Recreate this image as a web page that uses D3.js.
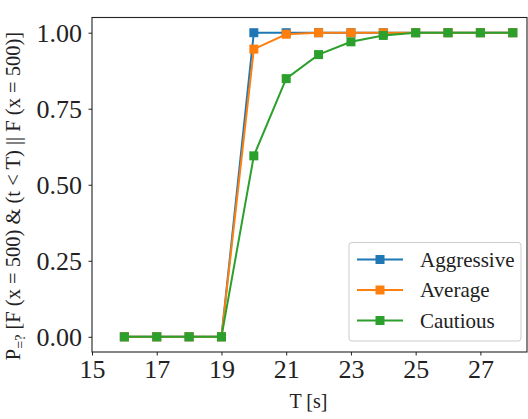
<!DOCTYPE html>
<html>
<head>
<meta charset="utf-8">
<script src="https://cdn.jsdelivr.net/npm/d3@7"></script>
<style>
  body { margin: 0; background: #fff; }
  svg { display: block; }
</style>
</head>
<body>
<div id="chart"></div>
<script>
// data
const times = [16, 17, 18, 19, 20, 21, 22, 23, 24, 25, 26, 27, 28];
const aggressive = [0, 0, 0, 0, 1.0, 1.0, 1.0, 1.0, 1.0, 1.0, 1.0, 1.0, 1.0];
const average = [0, 0, 0, 0, 0.946, 0.995, 1.0, 1.0, 1.0, 1.0, 1.0, 1.0, 1.0];
const cautious = [0, 0, 0, 0, 0.595, 0.849, 0.928, 0.970, 0.991, 1.0, 1.0, 1.0, 1.0];
const seriesNames = ["Aggressive", "Average", "Cautious"];
const seriesColors = ["#1f77b4", "#ff7f0e", "#2ca02c"];
const xTicks = [15, 17, 19, 21, 23, 25, 27];
const yTicks = [0, 0.25, 0.5, 0.75, 1.0];

const W = 528, H = 419;
const margin = {left: 92, right: 527, top: 17.5, bottom: 352};
const serif = '"Liberation Serif", "DejaVu Serif", serif';

const svg = d3.select("#chart").append("svg")
  .attr("width", W).attr("height", H);

const x = d3.scaleLinear().domain([15, 28.44]).range([margin.left, margin.right]);
const y = d3.scaleLinear().domain([-0.05, 1.05]).range([margin.bottom, margin.top]);

// axes
const xAxis = svg.append("g")
  .attr("transform", `translate(0,${margin.bottom})`)
  .call(d3.axisBottom(x).tickValues(xTicks).tickFormat(d3.format("d"))
    .tickSize(3.5).tickPadding(4).tickSizeOuter(0));
const yAxis = svg.append("g")
  .attr("transform", `translate(${margin.left},0)`)
  .call(d3.axisLeft(y).tickValues(yTicks).tickFormat(d3.format(".2f"))
    .tickSize(3.5).tickPadding(6.5).tickSizeOuter(0));

[xAxis, yAxis].forEach(a => {
  a.select(".domain").remove();
  a.selectAll("line").attr("stroke", "#222").attr("stroke-width", 1);
  a.selectAll("text").style("font-family", serif)
    .style("font-size", "26px").attr("fill", "#222");
});
yAxis.selectAll("text").attr("dy", "0.34em");

// frame
svg.append("rect")
  .attr("x", margin.left).attr("y", margin.top)
  .attr("width", margin.right - margin.left).attr("height", margin.bottom - margin.top)
  .attr("fill", "none").attr("stroke", "#222").attr("stroke-width", 1.1);

// lines
const series = [aggressive, average, cautious];
const line = d3.line().x((d, i) => x(times[i])).y(d => y(d));

series.forEach((vals, k) => {
  const g = svg.append("g");
  g.append("path")
    .datum(vals)
    .attr("d", line)
    .attr("fill", "none")
    .attr("stroke", seriesColors[k])
    .attr("stroke-width", 2);
  g.selectAll("rect")
    .data(vals)
    .join("rect")
      .attr("x", (d, i) => x(times[i]) - 4.5)
      .attr("y", d => y(d) - 4.5)
      .attr("width", 9).attr("height", 9)
      .attr("fill", seriesColors[k]);
});

// legend
const lg = svg.append("g").attr("transform", "translate(349,242.5)");
lg.append("rect")
  .attr("width", 172).attr("height", 98.5)
  .attr("rx", 3)
  .attr("fill", "#fff").attr("fill-opacity", 0.8)
  .attr("stroke", "#ccc").attr("stroke-width", 1);
seriesNames.forEach((name, k) => {
  const cy = 17 + k * 30.5;
  lg.append("line")
    .attr("x1", 8).attr("x2", 54).attr("y1", cy).attr("y2", cy)
    .attr("stroke", seriesColors[k]).attr("stroke-width", 2);
  lg.append("rect")
    .attr("x", 31 - 4.5).attr("y", cy - 4.5)
    .attr("width", 9).attr("height", 9)
    .attr("fill", seriesColors[k]);
  lg.append("text")
    .attr("x", 71).attr("y", cy).attr("dy", "0.34em")
    .style("font-family", serif)
    .style("font-size", "21px")
    .attr("fill", "#222")
    .text(name);
});

// axis labels
svg.append("text")
  .attr("x", (margin.left + margin.right) / 2 - 1).attr("y", 408)
  .attr("text-anchor", "middle")
  .style("font-family", serif)
  .style("font-size", "20px")
  .attr("fill", "#222")
  .text("T [s]");

const yl = svg.append("text")
  .attr("transform", "translate(20,196) rotate(-90)")
  .attr("text-anchor", "middle")
  .style("font-family", serif)
  .style("font-size", "20.5px")
  .attr("fill", "#222");
yl.append("tspan").text("P");
yl.append("tspan").attr("dy", 5).style("font-size", "14px").text("=?");
yl.append("tspan").attr("dy", -5).text(" [F (x = 500) & (t < T) || F (x = 500)]");
</script>
</body>
</html>
